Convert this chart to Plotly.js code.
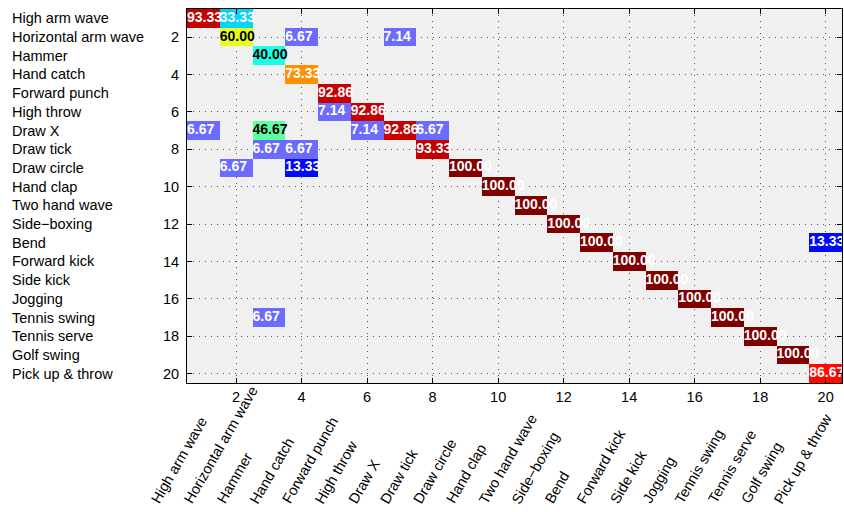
<!DOCTYPE html>
<html>
<head>
<meta charset="utf-8">
<script src="https://cdn.plot.ly/plotly-3.0.1.min.js"></script>
<style>html,body{margin:0;padding:0;background:#fff;}#chart{width:844px;height:512px;}</style>
</head>
<body>
<div id="chart"></div>
<script>
var categories = ["High arm wave","Horizontal arm wave","Hammer","Hand catch","Forward punch","High throw","Draw X","Draw tick","Draw circle","Hand clap","Two hand wave","Side\u2212boxing","Bend","Forward kick","Side kick","Jogging","Tennis swing","Tennis serve","Golf swing","Pick up & throw"];
var tickNumbers = [2,4,6,8,10,12,14,16,18,20];

// confusion matrix, rows = actual, columns = predicted (0 = empty cell)
var row1  = [93.33,33.33,0,0,0,0,0,0,0,0,0,0,0,0,0,0,0,0,0,0];
var row2  = [0,60.00,0,6.67,0,0,7.14,0,0,0,0,0,0,0,0,0,0,0,0,0];
var row3  = [0,0,40.00,0,0,0,0,0,0,0,0,0,0,0,0,0,0,0,0,0];
var row4  = [0,0,0,73.33,0,0,0,0,0,0,0,0,0,0,0,0,0,0,0,0];
var row5  = [0,0,0,0,92.86,0,0,0,0,0,0,0,0,0,0,0,0,0,0,0];
var row6  = [0,0,0,0,7.14,92.86,0,0,0,0,0,0,0,0,0,0,0,0,0,0];
var row7  = [6.67,0,46.67,0,0,7.14,92.86,6.67,0,0,0,0,0,0,0,0,0,0,0,0];
var row8  = [0,0,6.67,6.67,0,0,0,93.33,0,0,0,0,0,0,0,0,0,0,0,0];
var row9  = [0,6.67,0,13.33,0,0,0,0,100.00,0,0,0,0,0,0,0,0,0,0,0];
var row10 = [0,0,0,0,0,0,0,0,0,100.00,0,0,0,0,0,0,0,0,0,0];
var row11 = [0,0,0,0,0,0,0,0,0,0,100.00,0,0,0,0,0,0,0,0,0];
var row12 = [0,0,0,0,0,0,0,0,0,0,0,100.00,0,0,0,0,0,0,0,0];
var row13 = [0,0,0,0,0,0,0,0,0,0,0,0,100.00,0,0,0,0,0,0,13.33];
var row14 = [0,0,0,0,0,0,0,0,0,0,0,0,0,100.00,0,0,0,0,0,0];
var row15 = [0,0,0,0,0,0,0,0,0,0,0,0,0,0,100.00,0,0,0,0,0];
var row16 = [0,0,0,0,0,0,0,0,0,0,0,0,0,0,0,100.00,0,0,0,0];
var row17 = [0,0,6.67,0,0,0,0,0,0,0,0,0,0,0,0,0,100.00,0,0,0];
var row18 = [0,0,0,0,0,0,0,0,0,0,0,0,0,0,0,0,0,100.00,0,0];
var row19 = [0,0,0,0,0,0,0,0,0,0,0,0,0,0,0,0,0,0,100.00,0];
var row20 = [0,0,0,0,0,0,0,0,0,0,0,0,0,0,0,0,0,0,0,86.67];

var matrix = [row1,row2,row3,row4,row5,row6,row7,row8,row9,row10,row11,row12,row13,row14,row15,row16,row17,row18,row19,row20];
var idx = categories.map(function(_, i){ return i + 1; });

var z = matrix.map(function(r){ return r.map(function(v){ return v === 0 ? null : v; }); });

var tx = [], ty = [], tt = [], tc = [];
matrix.forEach(function(r, i){
  r.forEach(function(v, j){
    if (v !== 0) {
      tx.push(j + 1 - 0.5);
      ty.push(i + 1);
      tt.push(v.toFixed(2));
      tc.push((v > 35 && v < 65) ? '#000000' : '#ffffff');
    }
  });
});

var FONT = 'Liberation Sans, Arial, Helvetica, sans-serif';

var heat = {
  type: 'heatmap', x: idx, y: idx, z: z,
  zmin: 0, zmax: 100,
  colorscale: [[0,'#6b6bff'],[0.1,'#6b6bff'],[0.101,'#0000ff'],[0.125,'#0000ff'],[0.375,'#00ffff'],[0.625,'#ffff00'],[0.875,'#ff0000'],[1,'#800000']],
  showscale: false, hoverinfo: 'skip'
};

var labels = {
  type: 'scatter', mode: 'text', x: tx, y: ty, text: tt,
  textposition: 'middle right',
  textfont: {family: FONT, size: 14, color: tc, weight: 'bold'},
  cliponaxis: true, hoverinfo: 'skip', showlegend: false
};

var annotations = [];
categories.forEach(function(name, i){
  annotations.push({
    text: name, xref: 'paper', yref: 'y', x: -0.270, y: i + 1,
    xanchor: 'left', yanchor: 'middle', showarrow: false,
    font: {family: FONT, size: 14.5, color: '#000'}
  });
  annotations.push({
    text: name, xref: 'x', yref: 'paper', x: i + 1, y: -0.337,
    xanchor: 'left', yanchor: 'bottom', xshift: -58, textangle: -60, showarrow: false,
    font: {family: FONT, size: 14.5, color: '#000'}
  });
});

var axisCommon = {
  tickvals: tickNumbers, ticktext: tickNumbers.map(String),
  ticks: 'inside', ticklen: 5, tickcolor: '#000', tickwidth: 1,
  showline: true, linecolor: '#000', linewidth: 1, mirror: 'allticks',
  showgrid: true, gridcolor: '#555', griddash: '1px,5px', gridwidth: 1,
  zeroline: false, tickfont: {family: FONT, size: 14.5, color: '#000'}
};

var layout = {
  width: 844, height: 512,
  margin: {l: 187, r: 2, t: 9, b: 129},
  paper_bgcolor: '#ffffff', plot_bgcolor: '#f0f0f0',
  showlegend: false,
  xaxis: Object.assign({}, axisCommon, {range: [0.5, 20.5], ticklabelstandoff: 1}),
  yaxis: Object.assign({}, axisCommon, {range: [20.5, 0.5], ticklabelstandoff: 4}),
  annotations: annotations
};

Plotly.newPlot('chart', [heat, labels], layout, {displayModeBar: false, staticPlot: true});
</script>
</body>
</html>
